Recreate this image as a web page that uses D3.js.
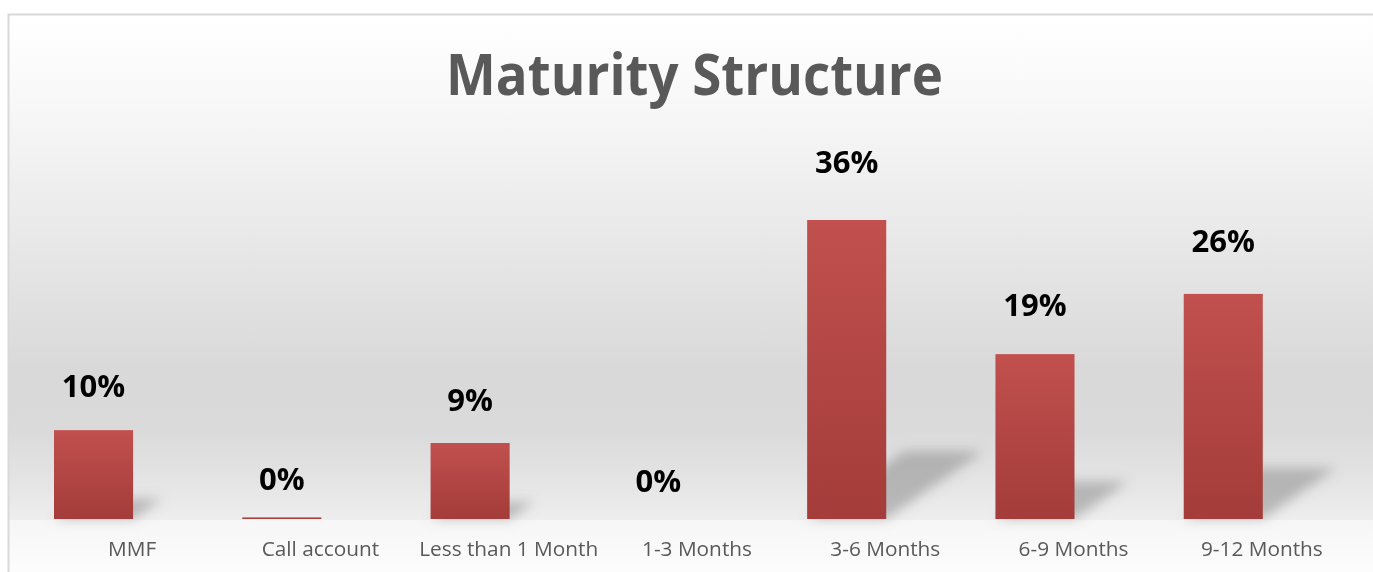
<!DOCTYPE html>
<html>
<head>
<meta charset="utf-8">
<script src="https://cdn.jsdelivr.net/npm/d3@7"></script>
<style>
  html, body { margin: 0; padding: 0; background: #ffffff; }
  svg { display: block; }
</style>
</head>
<body>
<svg id="chart" width="1373" height="572"></svg>
<script>
// ---- data ----
const title = "Maturity Structure";
const categories = ["MMF", "Call account", "Less than 1 Month", "1-3 Months", "3-6 Months", "6-9 Months", "9-12 Months"];
const values = [0.107, 0.002, 0.0915, 0, 0.36, 0.1985, 0.271];
const dataLabels = ["10%", "0%", "9%", "0%", "36%", "19%", "26%"];

// ---- layout ----
const W = 1373, H = 572;
const frame = { left: 9, top: 15 };
const baseY = 519;
const wallBottom = 520;

const svg = d3.select("#chart");
const defs = svg.append("defs");

// background gradient (back wall)
const wallGrad = defs.append("linearGradient").attr("id", "wallGrad")
  .attr("x1", 0).attr("y1", 0).attr("x2", 0).attr("y2", 1);
[[0, "#ffffff"], [0.15, "#f9f9f9"], [0.45, "#e8e8e8"], [0.7, "#d9d9d9"],
 [0.82, "#dadada"], [0.92, "#e4e4e4"], [1, "#eeeeee"]]
  .forEach(([o, c]) => wallGrad.append("stop").attr("offset", o).attr("stop-color", c));

const floorGrad = defs.append("linearGradient").attr("id", "floorGrad")
  .attr("x1", 0).attr("y1", 0).attr("x2", 0).attr("y2", 1);
[[0, "#f6f6f6"], [1, "#fdfdfd"]]
  .forEach(([o, c]) => floorGrad.append("stop").attr("offset", o).attr("stop-color", c));

const barGrad = defs.append("linearGradient").attr("id", "barGrad")
  .attr("x1", 0).attr("y1", 0).attr("x2", 0).attr("y2", 1);
[[0, "#c1504e"], [1, "#a33c3a"]]
  .forEach(([o, c]) => barGrad.append("stop").attr("offset", o).attr("stop-color", c));

const blur = defs.append("filter").attr("id", "shadowBlur")
  .attr("x", "-50%").attr("y", "-50%").attr("width", "200%").attr("height", "200%");
blur.append("feGaussianBlur").attr("stdDeviation", 6);

// chart area background
svg.append("rect").attr("x", frame.left).attr("y", frame.top)
  .attr("width", W - frame.left + 5).attr("height", wallBottom - frame.top)
  .attr("fill", "url(#wallGrad)");
svg.append("rect").attr("x", frame.left).attr("y", wallBottom)
  .attr("width", W - frame.left + 5).attr("height", H - wallBottom + 5)
  .attr("fill", "url(#floorGrad)");
// border
svg.append("rect").attr("x", frame.left - 0.5).attr("y", frame.top - 0.5)
  .attr("width", W + 10).attr("height", H + 10)
  .attr("fill", "none").attr("stroke", "#d9d9d9").attr("stroke-width", 2);

// ---- scales ----
const x = d3.scaleBand().domain(categories).range([38, 1356]).paddingInner(0).paddingOuter(0);
const y = d3.scaleLinear().domain([0, 0.36]).range([baseY, 220]);
const bw = x.bandwidth();
const barOff = bw * 0.085, barW = bw * 0.42;

const data = categories.map((c, i) => ({ c, v: values[i], label: dataLabels[i] }));

// shadows
svg.append("g").attr("filter", "url(#shadowBlur)")
  .selectAll("path").data(data.filter(d => d.v > 0.01)).join("path")
  .attr("d", d => {
    const x0 = x(d.c) + barOff, x1 = x0 + barW;
    const h = y(0) - y(d.v);
    const dx = h * 0.325, dy = h * 0.227;
    return `M${x0},${y(0)}L${x1},${y(0)}L${x1 + dx},${y(0) - dy}L${x0 + dx},${y(0) - dy}Z`;
  })
  .attr("fill", "#7a7a7a").attr("opacity", 0.45);

// bars
svg.append("g").selectAll("rect").data(data).join("rect")
  .attr("x", d => x(d.c) + barOff)
  .attr("width", barW)
  .attr("y", d => y(d.v))
  .attr("height", d => y(0) - y(d.v))
  .attr("fill", "url(#barGrad)");

// data labels
svg.append("g").selectAll("text").data(data).join("text")
  .attr("x", d => x(d.c) + barOff + barW / 2)
  .attr("y", d => y(d.v) - (27 + 56 * d.v))
  .attr("text-anchor", "middle")
  .attr("font-family", "'Open Sans', 'DejaVu Sans', sans-serif")
  .attr("font-weight", 700)
  .attr("font-size", 31)
  .attr("fill", "#000000")
  .text(d => d.label);

// category axis (no line, no ticks)
const axis = svg.append("g").attr("transform", `translate(0,${baseY})`)
  .call(d3.axisBottom(x).tickSize(0).tickPadding(0));
axis.select(".domain").remove();
axis.selectAll("text")
  .attr("y", 37).attr("dy", 0)
  .attr("font-family", "'Open Sans', 'DejaVu Sans', sans-serif")
  .attr("font-size", 20.8)
  .attr("fill", "#595959");

// title
svg.append("text")
  .attr("x", 694.5).attr("y", 95)
  .attr("text-anchor", "middle")
  .attr("font-family", "'Open Sans', 'DejaVu Sans', sans-serif")
  .attr("font-weight", 700)
  .attr("font-size", 57)
  .attr("fill", "#595959")
  .attr("textLength", 497)
  .attr("lengthAdjust", "spacingAndGlyphs")
  .text(title);
</script>
</body>
</html>
